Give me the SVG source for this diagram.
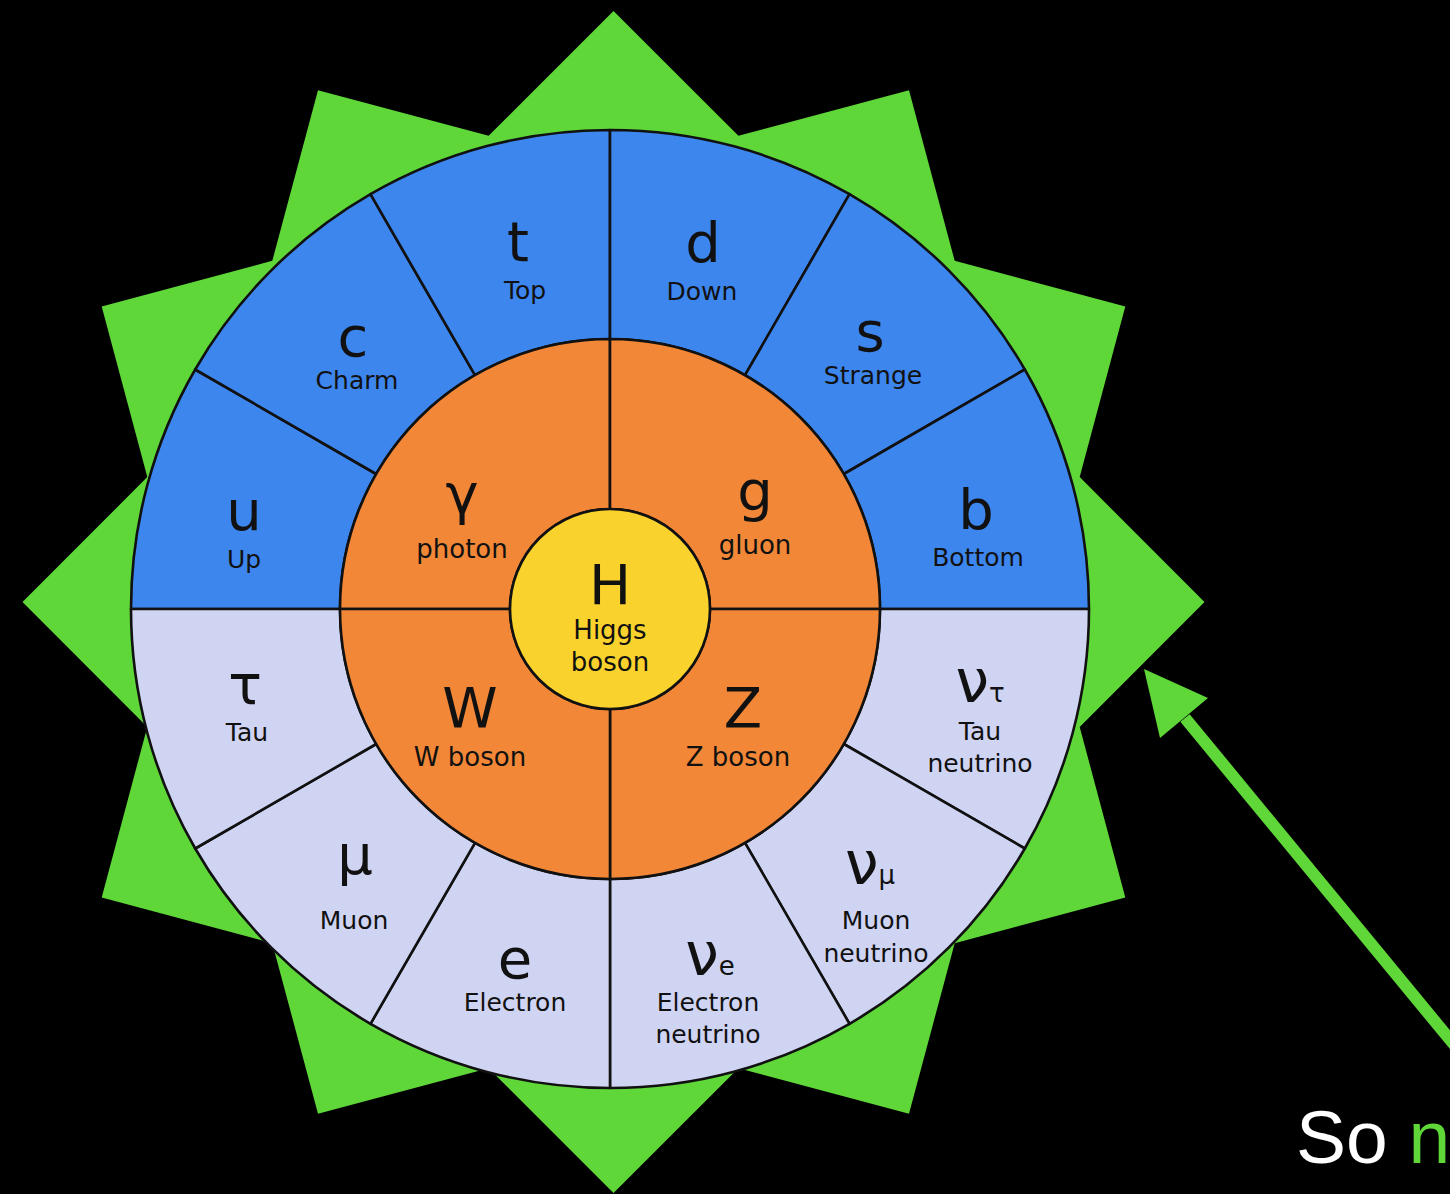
<svg xmlns="http://www.w3.org/2000/svg" width="1450" height="1194" viewBox="0 0 1450 1194">
<style>
.seg{stroke:#111;stroke-width:2.6;stroke-linejoin:round}
.q{fill:#3D86EE}
.l{fill:#D0D4F3}
.b{fill:#F28737}
.sym{font-family:"DejaVu Sans",sans-serif;font-size:56px;fill:#111;text-anchor:middle}
.lab{font-family:"DejaVu Sans",sans-serif;font-size:25px;fill:#111;text-anchor:middle}
.lab2{font-family:"DejaVu Sans",sans-serif;font-size:26px;fill:#111;text-anchor:middle}
</style>
<rect x="0" y="0" width="1450" height="1194" fill="#000"/>
<g id="star">
<polygon fill="#5FD739" points="613.5,11 738.4,135.8 909,90.2 954.7,260.8 1125.3,306.5 1079.7,477.1 1204.5,602 1079.7,726.9 1125.3,897.5 954.7,943.2 909,1113.8 738.4,1068.2 613.5,1193 488.6,1068.2 318,1113.8 272.3,943.2 101.7,897.5 147.3,726.9 22.5,602 147.3,477.1 101.7,306.5 272.3,260.8 318,90.2 488.6,135.8"/>
</g>
<g id="up"><path class="seg q" d="M131,609 A479,479 0 0 1 195.2,369.5 L376.2,474 A270,270 0 0 0 340,609 Z"/>
<text class="sym" x="244" y="530">u</text><text class="lab" x="244" y="568">Up</text></g>
<g id="charm"><path class="seg q" d="M195.2,369.5 A479,479 0 0 1 370.5,194.2 L475,375.2 A270,270 0 0 0 376.2,474 Z"/>
<text class="sym" x="353" y="356">c</text><text class="lab" x="357" y="389">Charm</text></g>
<g id="top"><path class="seg q" d="M370.5,194.2 A479,479 0 0 1 610,130 L610,339 A270,270 0 0 0 475,375.2 Z"/>
<text class="sym" x="518" y="261">t</text><text class="lab" x="525" y="299">Top</text></g>
<g id="down"><path class="seg q" d="M610,130 A479,479 0 0 1 849.5,194.2 L745,375.2 A270,270 0 0 0 610,339 Z"/>
<text class="sym" x="703" y="262">d</text><text class="lab" x="702" y="300">Down</text></g>
<g id="strange"><path class="seg q" d="M849.5,194.2 A479,479 0 0 1 1024.8,369.5 L843.8,474 A270,270 0 0 0 745,375.2 Z"/>
<text class="sym" x="870" y="351">s</text><text class="lab" x="873" y="384">Strange</text></g>
<g id="bottom"><path class="seg q" d="M1024.8,369.5 A479,479 0 0 1 1089,609 L880,609 A270,270 0 0 0 843.8,474 Z"/>
<text class="sym" x="976" y="529">b</text><text class="lab" x="978" y="566">Bottom</text></g>
<g id="tau-neutrino"><path class="seg l" d="M1089,609 A479,479 0 0 1 1024.8,848.5 L843.8,744 A270,270 0 0 0 880,609 Z"/>
<text class="sym" x="980" y="702"><tspan font-size="60">ν</tspan><tspan font-size="26">τ</tspan></text><text class="lab" x="980" y="740">Tau</text><text class="lab" x="980" y="772">neutrino</text></g>
<g id="muon-neutrino"><path class="seg l" d="M1024.8,848.5 A479,479 0 0 1 849.5,1023.8 L745,842.8 A270,270 0 0 0 843.8,744 Z"/>
<text class="sym" x="870" y="884"><tspan font-size="60">ν</tspan><tspan font-size="26">μ</tspan></text><text class="lab" x="876" y="929">Muon</text><text class="lab" x="876" y="962">neutrino</text></g>
<g id="electron-neutrino"><path class="seg l" d="M849.5,1023.8 A479,479 0 0 1 610,1088 L610,879 A270,270 0 0 0 745,842.8 Z"/>
<text class="sym" x="710" y="975"><tspan font-size="60">ν</tspan><tspan font-size="26">e</tspan></text><text class="lab" x="708" y="1011">Electron</text><text class="lab" x="708" y="1043">neutrino</text></g>
<g id="electron"><path class="seg l" d="M610,1088 A479,479 0 0 1 370.5,1023.8 L475,842.8 A270,270 0 0 0 610,879 Z"/>
<text class="sym" x="515" y="978">e</text><text class="lab" x="515" y="1011">Electron</text></g>
<g id="muon"><path class="seg l" d="M370.5,1023.8 A479,479 0 0 1 195.2,848.5 L376.2,744 A270,270 0 0 0 475,842.8 Z"/>
<text class="sym" x="355" y="874">μ</text><text class="lab" x="354" y="929">Muon</text></g>
<g id="tau"><path class="seg l" d="M195.2,848.5 A479,479 0 0 1 131,609 L340,609 A270,270 0 0 0 376.2,744 Z"/>
<text class="sym" x="245" y="704">τ</text><text class="lab" x="247" y="741">Tau</text></g>
<g id="photon"><path class="seg b" d="M340,609 A270,270 0 0 1 610,339 L610,509 A100,100 0 0 0 510,609 Z"/>
<text class="sym" x="462" y="513">γ</text><text class="lab2" x="462" y="558">photon</text></g>
<g id="gluon"><path class="seg b" d="M610,339 A270,270 0 0 1 880,609 L710,609 A100,100 0 0 0 610,509 Z"/>
<text class="sym" x="755" y="510">g</text><text class="lab2" x="755" y="554">gluon</text></g>
<g id="z-boson"><path class="seg b" d="M880,609 A270,270 0 0 1 610,879 L610,709 A100,100 0 0 0 710,609 Z"/>
<text class="sym" x="743" y="727">Z</text><text class="lab2" x="738" y="766">Z boson</text></g>
<g id="w-boson"><path class="seg b" d="M610,879 A270,270 0 0 1 340,609 L510,609 A100,100 0 0 0 610,709 Z"/>
<text class="sym" x="470" y="727">W</text><text class="lab2" x="470" y="766">W boson</text></g>
<g id="higgs"><circle class="seg" cx="610" cy="609" r="100" fill="#FAD22D"/>
<text class="sym" x="610" y="604" font-size="58">H</text><text class="lab2" x="610" y="639">Higgs</text><text class="lab2" x="610" y="671">boson</text></g>
<g id="connectors">
<line x1="1185" y1="718" x2="1475" y2="1070" stroke="#5FD739" stroke-width="12"/>
<polygon fill="#5FD739" points="1144,669 1208,698 1160,738"/>
</g>
<g id="caption">
<text x="1296" y="1163" font-family="Liberation Sans, Arial, sans-serif" font-size="75" fill="#FFFFFF">So <tspan fill="#5FD739">n</tspan></text>
</g>
</svg>
